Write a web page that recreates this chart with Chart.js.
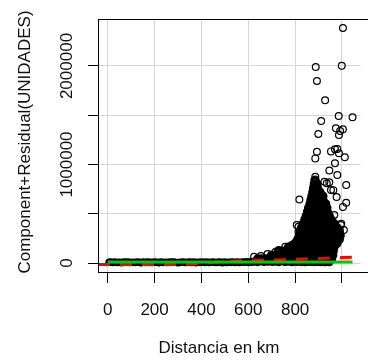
<!DOCTYPE html>
<html>
<head>
<meta charset="utf-8">
<script src="https://cdn.jsdelivr.net/npm/chart.js@4.4.0/dist/chart.umd.min.js"></script>
<style>
  html, body { margin: 0; padding: 0; background: #fff; }
  #crPlot { display: block; }
</style>
</head>
<body>
<canvas id="crPlot" width="368" height="360"></canvas>
<script>
// Component + residual plot: UNIDADES vs distancia (km)

const xTicks = [0, 200, 400, 600, 800, 1000];
const xTickLabels = ['0', '200', '400', '600', '800', ''];
const yTicks = [0, 500000, 1000000, 1500000, 2000000];
const yTickLabels = [[0, '0'], [1000000, '1000000'], [2000000, '2000000']];

// observations lying on the zero line (heavily stacked)
const bandPoints = [
  [6,7000],[13,9000],[22,5000],[31,10000],[41,6000],[50,8000],[59,4000],[69,9000],[78,7000],[87,11000],
  [97,5000],[106,8000],[115,6000],[125,10000],[134,7000],[143,4000],[153,9000],[162,6000],[171,11000],[181,7000],
  [190,5000],[199,9000],[209,8000],[218,4000],[227,10000],[237,6000],[246,8000],[255,5000],[265,9000],[274,7000],
  [283,11000],[293,6000],[302,4000],[311,8000],[321,10000],[330,5000],[339,7000],[349,9000],[358,6000],[367,11000],
  [377,4000],[386,8000],[395,7000],[405,10000],[414,5000],[423,9000],[433,6000],[442,8000],[451,11000],[461,5000],
  [470,7000],[479,9000],[489,4000],[498,10000],[507,6000],[517,8000],[526,7000],[535,11000],[545,5000],[554,9000],
  [563,6000],[573,10000],[582,8000],[591,13000],[601,6000],[610,15000],[619,9000],[629,18000],[638,7000],[647,12000],
  [657,20000],[666,8000],[675,14000],[685,10000],[694,22000],[703,9000],[713,16000],[722,11000],[731,7000],[741,19000],
  [750,12000],[759,8000],[769,15000],[778,10000],[787,6000],[797,13000],[806,9000],[815,17000],[825,7000],[834,11000],
  [843,5000],[853,14000],[862,8000],[871,10000],[881,6000],[890,12000],[899,9000],[909,7000],[918,11000],[927,5000],
  [937,8000],[946,6000]
];

// dense cloud of observations between ~600 and ~1000 km
const corePoints = [
  [640,40000],[657,40000],[674,40000],[690,40000],[707,40000],[724,40000],[740,40000],[757,40000],[774,40000],[790,40000],
  [807,40000],[824,40000],[840,40000],[857,40000],[874,40000],[890,40000],[907,40000],[924,40000],[940,40000],[955,40000],
  [700,80000],[717,80000],[734,80000],[750,80000],[767,80000],[784,80000],[800,80000],[817,80000],[834,80000],[850,80000],
  [867,80000],[884,80000],[900,80000],[917,80000],[934,80000],[950,80000],[960,80000],
  [730,120000],[747,120000],[763,120000],[780,120000],[797,120000],[813,120000],[830,120000],[847,120000],[863,120000],
  [880,120000],[897,120000],[913,120000],[930,120000],[947,120000],[962,120000],
  [772,160000],[788,160000],[805,160000],[822,160000],[838,160000],[855,160000],[872,160000],[888,160000],[905,160000],
  [922,160000],[938,160000],[955,160000],[965,160000],
  [800,200000],[817,200000],[833,200000],[850,200000],[867,200000],[883,200000],[900,200000],[917,200000],[933,200000],
  [950,200000],[967,200000],[978,200000],
  [812,240000],[828,240000],[845,240000],[862,240000],[878,240000],[895,240000],[912,240000],[928,240000],[945,240000],
  [962,240000],[978,240000],[988,240000],
  [818,280000],[835,280000],[852,280000],[868,280000],[885,280000],[902,280000],[918,280000],[935,280000],[952,280000],
  [968,280000],[985,280000],[992,280000],
  [822,320000],[839,320000],[856,320000],[872,320000],[889,320000],[906,320000],[922,320000],[939,320000],[956,320000],
  [972,320000],[988,320000],
  [828,360000],[845,360000],[862,360000],[878,360000],[895,360000],[912,360000],[928,360000],[945,360000],[962,360000],[978,360000],
  [835,400000],[852,400000],[868,400000],[885,400000],[902,400000],[918,400000],[935,400000],[952,400000],[966,400000],
  [842,440000],[858,440000],[875,440000],[892,440000],[908,440000],[925,440000],[942,440000],[953,440000],
  [848,480000],[865,480000],[882,480000],[898,480000],[915,480000],[932,480000],[945,480000],
  [853,520000],[870,520000],[887,520000],[903,520000],[920,520000],[937,520000],
  [858,560000],[875,560000],[892,560000],[908,560000],[925,560000],[935,560000],
  [864,600000],[880,600000],[897,600000],[914,600000],[930,600000],
  [868,640000],[885,640000],[902,640000],[918,640000],
  [872,680000],[889,680000],[906,680000],[918,680000],
  [876,720000],[892,720000],[905,720000],
  [879,760000],[895,760000],
  [882,800000],[893,800000],
  [885,840000]
];

// scattered observations
const outerPoints = [
  [1004,2386000],[888,1990000],[999,2003000],[893,1848000],[928,1652000],[911,1442000],[986,1492000],[1045,1479000],
  [899,1310000],[974,1367000],[992,1340000],[1004,1357000],[987,1300000],[893,1130000],[886,1062000],[970,1154000],
  [980,1157000],[987,1114000],[1012,1073000],[970,1012000],[953,1133000],[946,940000],[980,893000],[1018,792000],
  [818,645000],[1018,612000],[886,876000],[925,825000],[946,819000],[953,741000],[935,810000],[963,740000],
  [977,670000],[1004,570000],[893,710000],[866,505000],[859,437000],[845,335000],[997,400000],[990,335000],
  [967,487000],[995,386000],[1008,335000],[979,254000],[829,267000],[814,318000],[814,369000],[807,386000],
  [807,216000],[786,183000],[758,165000],[730,132000],[717,115000],[682,91000],[654,71000],[625,64000]
];

// linear component and smoother
const componentLine = [[0,10000],[1045,10000]];
const smoothLine = [
  [-41.5,-15000],[150,-15000],[290,-14000],[420,0],[540,20000],[640,30000],
  [740,33000],[830,42000],[920,48000],[1000,55000],[1079,64000]
];

const FONT = '"Liberation Sans", Arial, sans-serif';
const TEXT = '#111';

// box, rotated y labels and axis titles, R style
const rFrame = {
  id: 'rFrame',
  afterDatasetsDraw(chart) {
    const { ctx, chartArea: a, scales } = chart;
    ctx.save();
    ctx.strokeStyle = '#000';
    ctx.lineWidth = 1;
    ctx.strokeRect(Math.round(a.left) + 0.5, Math.round(a.top) + 0.5, a.right - a.left + 10, a.bottom - a.top);

    ctx.fillStyle = TEXT;
    ctx.font = '17px ' + FONT;
    ctx.textAlign = 'center';
    ctx.textBaseline = 'alphabetic';
    yTickLabels.forEach(([v, txt]) => {
      const y = scales.y.getPixelForValue(v);
      ctx.save();
      ctx.translate(72, y);
      ctx.rotate(-Math.PI / 2);
      ctx.fillText(txt, 0, 0);
      ctx.restore();
    });

    ctx.save();
    ctx.translate(30, 142);
    ctx.rotate(-Math.PI / 2);
    ctx.fillText('Component+Residual(UNIDADES)', 0, 0);
    ctx.restore();

    ctx.fillText('Distancia en km', 219, 353);
    ctx.restore();
  }
};

const ctx = document.getElementById('crPlot').getContext('2d');
new Chart(ctx, {
  type: 'scatter',
  data: {
    datasets: [
      {
        type: 'line', data: componentLine, borderColor: '#00cc00', borderWidth: 3,
        pointRadius: 0, fill: false, order: 0
      },
      {
        type: 'line', data: smoothLine, borderColor: '#ff0000', borderWidth: 3, borderDash: [12, 10],
        pointRadius: 0, fill: false, cubicInterpolationMode: 'monotone', order: 1
      },
      {
        data: outerPoints, pointStyle: 'circle', pointRadius: 3.4, borderColor: '#000',
        backgroundColor: 'rgba(0,0,0,0)', borderWidth: 1.2, order: 2
      },
      {
        // heavily overplotted: wider stroke so stacked circles read as solid
        data: corePoints, pointStyle: 'circle', pointRadius: 3, borderColor: '#000',
        backgroundColor: 'rgba(0,0,0,0)', borderWidth: 3.5, order: 3
      },
      {
        data: bandPoints, pointStyle: 'circle', pointRadius: 2.8, borderColor: '#000',
        backgroundColor: 'rgba(0,0,0,0)', borderWidth: 2, order: 4
      }
    ]
  },
  options: {
    responsive: false,
    animation: false,
    devicePixelRatio: 1,
    layout: { padding: { top: 19, right: 0, left: 0, bottom: 0 } },
    plugins: { legend: { display: false }, tooltip: { enabled: false } },
    scales: {
      x: {
        type: 'linear',
        min: -41.5,
        max: 1079,
        afterBuildTicks: s => { s.ticks = xTicks.map(v => ({ value: v })); },
        afterFit: s => { s.height = 88; },
        grid: { color: '#d6d6d6', lineWidth: 1, drawTicks: true, tickLength: 11, tickColor: '#000', tickWidth: 1 },
        border: { display: true, color: '#000', width: 1 },
        ticks: {
          autoSkip: false, maxRotation: 0, padding: 17, color: TEXT,
          font: { family: FONT, size: 17 },
          callback: v => xTickLabels[xTicks.indexOf(v)] ?? ''
        }
      },
      y: {
        type: 'linear',
        min: -91000,
        max: 2477000,
        afterBuildTicks: s => { s.ticks = yTicks.map(v => ({ value: v })); },
        afterFit: s => { s.width = 98; },
        grid: { color: '#d6d6d6', lineWidth: 1, drawTicks: true, tickLength: 10, tickColor: '#000', tickWidth: 1 },
        border: { display: true, color: '#000', width: 1 },
        ticks: { display: false }
      }
    }
  },
  plugins: [rFrame]
});
</script>
</body>
</html>
